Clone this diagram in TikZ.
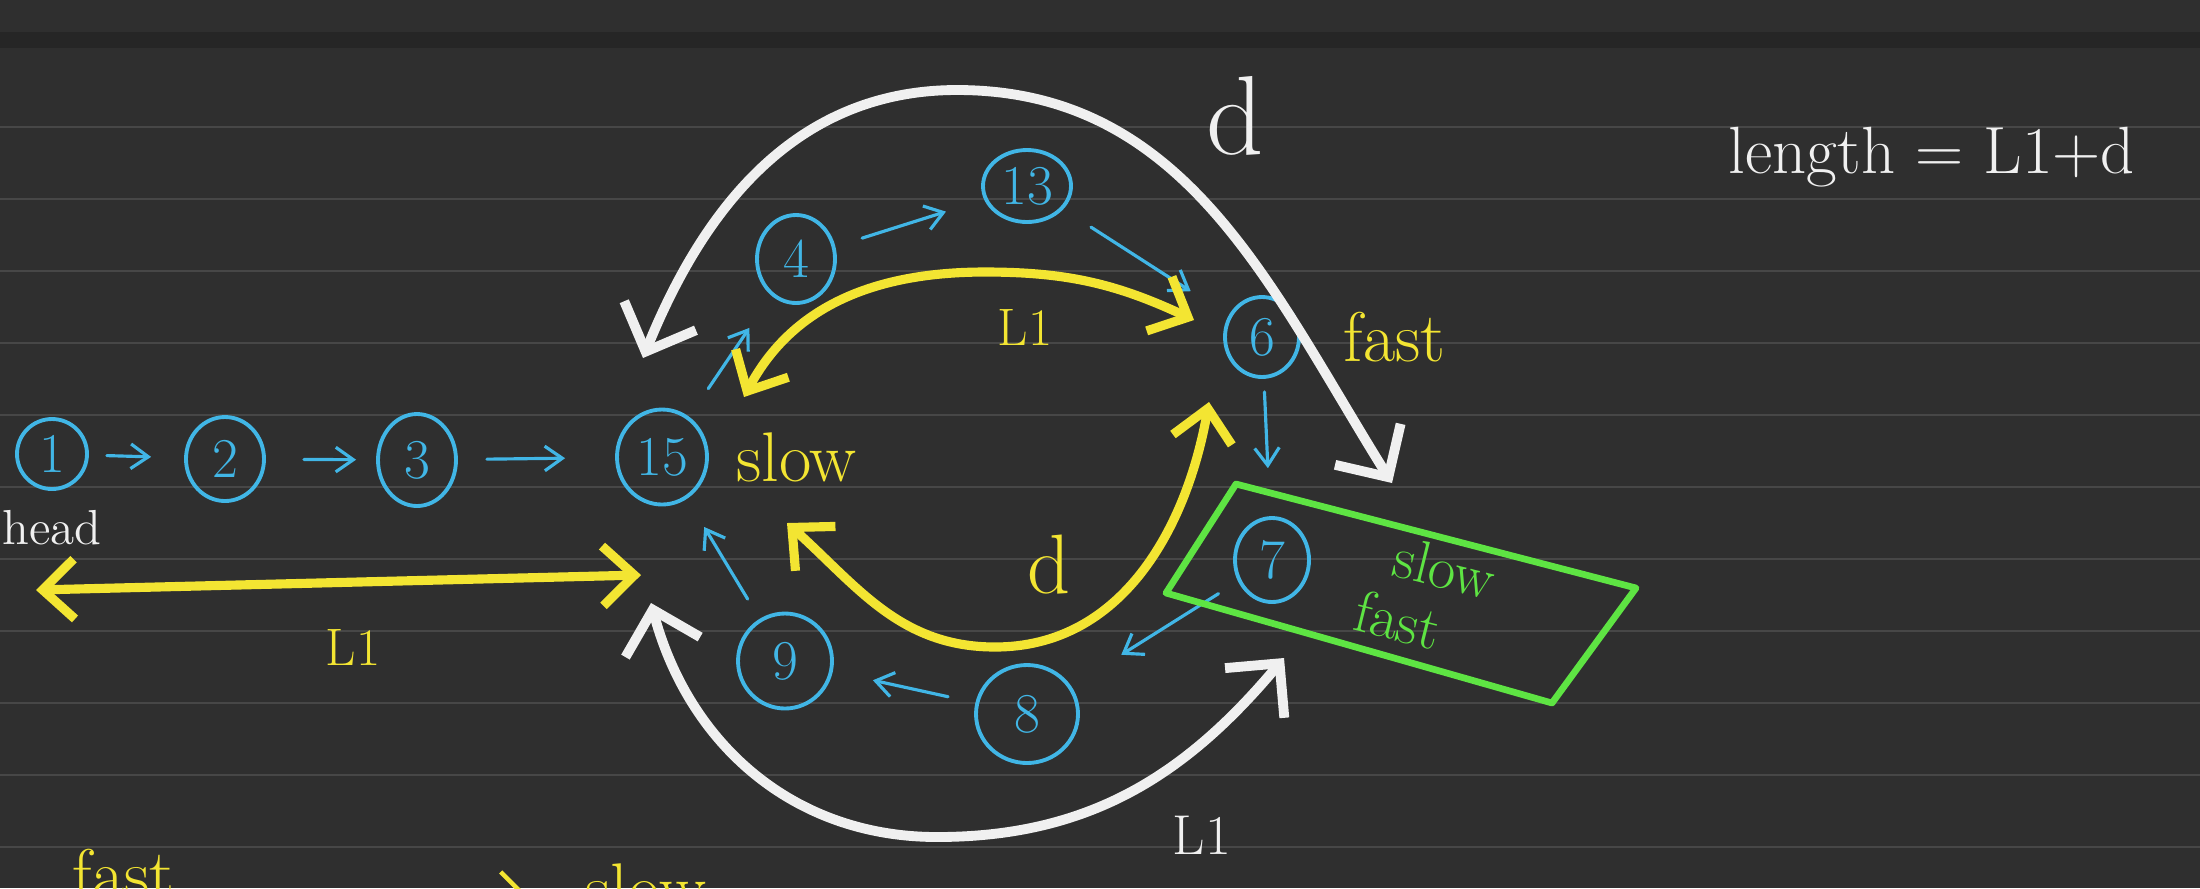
\documentclass[tikz,border=0pt]{standalone}
\usepackage{tikz}
\usetikzlibrary{positioning,arrows.meta,shapes.geometric}

\definecolor{boardbg}{HTML}{2F2F2F}
\definecolor{boardband}{HTML}{262626}
\definecolor{ruling}{HTML}{474747}
\definecolor{inkblue}{HTML}{41B6E6}
\definecolor{inkyellow}{HTML}{F3E532}
\definecolor{inkgreen}{HTML}{5EE443}
\definecolor{inkwhite}{HTML}{F0F0F0}

\begin{document}
\begin{tikzpicture}[
  % Blue ellipses for the list nodes
  listnode/.style={ellipse, draw=inkblue, line width=1.1pt, text=inkblue,
    minimum width=0.78cm, minimum height=0.84cm, inner sep=0pt,
    font=\fontsize{16}{16}\selectfont},
  % Handwritten labels, size given in pt
  ink/.style={inner sep=0pt, font=\fontsize{#1}{#1}\selectfont},
  % Thick double-headed strokes
  yellowarc/.style={draw=inkyellow, line width=2.6pt, line cap=round,
    {Straight Barb[length=9pt, width=17pt]}-{Straight Barb[length=9pt, width=17pt]}},
  whitearc/.style={draw=inkwhite, line width=2.8pt, line cap=round,
    {Straight Barb[length=11pt, width=22pt]}-{Straight Barb[length=11pt, width=22pt]}},
  greenbox/.style={draw=inkgreen, line width=1.9pt, line cap=round, line join=round},
  % Thin arrows between list nodes
  every edge/.style={draw=inkblue, line width=0.9pt, line cap=round,
    -{Straight Barb[length=5pt, width=7pt]}},
]
  % === Board ===
  \useasboundingbox (0,0) rectangle (22,-8.88);
  \clip (0,0) rectangle (22,-8.88);
  \fill[boardbg] (0,0) rectangle (22,-8.88);
  \fill[boardband] (0,-0.32) rectangle (22,-0.48);
  \foreach \k in {0,...,10}
    \draw[ruling, line width=0.7pt] (0,-1.27-0.72*\k) -- (22,-1.27-0.72*\k);

  % === List nodes ===
  \node[listnode, minimum width=0.70cm, minimum height=0.70cm] (n1) at (0.52,-4.54) {1};
  \node[listnode] (n2) at (2.25,-4.59) {2};
  \node[listnode, minimum height=0.92cm] (n3) at (4.17,-4.60) {3};
  \node[listnode, minimum width=0.90cm, minimum height=0.95cm] (n15) at (6.62,-4.57) {15};
  \node[listnode, minimum height=0.88cm] (n4) at (7.96,-2.59) {4};
  \node[listnode, minimum width=0.88cm, minimum height=0.72cm] (n13) at (10.27,-1.86) {13};
  \node[listnode, minimum width=0.74cm, minimum height=0.80cm] (n6) at (12.62,-3.37) {6};
  \node[listnode, minimum width=0.74cm] (n7) at (12.72,-5.60) {7};
  \node[listnode, minimum width=1.02cm, minimum height=0.98cm] (n8) at (10.27,-7.14) {8};
  \node[listnode, minimum width=0.94cm, minimum height=0.95cm] (n9) at (7.85,-6.61) {9};

  % === Labels ===
  \node[ink=14, text=inkwhite, below=0.19cm of n1] (head) {head};
  \node[ink=20, text=inkyellow, right=0.27cm of n15] (slow15) {slow};
  \node[ink=20, text=inkyellow, right=0.42cm of n6] (fast6) {fast};
  \node[ink=15, text=inkyellow] (lenL) at (3.53,-6.47) {L1};
  \node[ink=15, text=inkyellow] (topL) at (10.25,-3.27) {L1};
  \node[ink=24, text=inkyellow] (botD) at (10.49,-5.65) {d};
  \node[ink=32, text=inkwhite] (topD) at (12.35,-1.16) {d};
  \node[ink=16, text=inkwhite] (botL) at (12.02,-8.35) {L1};
  \node[ink=19, text=inkwhite] (formula) at (19.32,-1.57) {length = L1+d};
  \node[ink=17, text=inkgreen, rotate=-14] (slow7) at (14.45,-5.68) {slow};
  \node[ink=17, text=inkgreen, rotate=-14] (fast7) at (13.98,-6.20) {fast};
  \node[ink=20, text=inkyellow, anchor=base west] (fastB) at (0.72,-8.98) {fast};
  \node[ink=20, text=inkyellow, anchor=base west] (slowB) at (5.85,-9.12) {slow};

  % === Free ends of the strokes ===
  \coordinate (wdL) at (6.43,-3.58);
  \coordinate (wdTop) at (9.57,-0.90);
  \coordinate (wdR) at (13.92,-4.83);
  \coordinate (ylL) at (7.44,-3.97);
  \coordinate (ylTop) at (9.85,-2.72);
  \coordinate (ylR) at (11.94,-3.20);
  \coordinate (ydL) at (7.87,-5.23);
  \coordinate (ydBot) at (9.95,-6.47);
  \coordinate (ydR) at (12.09,-4.02);
  \coordinate (wlL) at (6.51,-6.03);
  \coordinate (wlBot) at (9.37,-8.37);
  \coordinate (wlR) at (12.84,-6.58);
  \coordinate (yhL) at (0.36,-5.90);
  \coordinate (yhR) at (6.41,-5.75);
  \coordinate (gTL) at (12.36,-4.84);
  \coordinate (gTR) at (16.36,-5.88);
  \coordinate (gBR) at (15.52,-7.03);
  \coordinate (gBL) at (11.66,-5.93);
  \coordinate (arrB0) at (3.40,-9.00);
  \coordinate (arrB1) at (5.32,-9.00);

  % === Edges: list links ===
  \path (n1) edge[shorten <=0.18cm, shorten >=0.33cm] (n2);
  \path (n2) edge[shorten <=0.38cm, shorten >=0.20cm] (n3);
  \path (n3) edge[shorten <=0.29cm, shorten >=0.50cm] (n15);
  \path (n15) edge[shorten <=0.34cm, shorten >=0.39cm] (n4);
  \path (n4) edge[shorten <=0.28cm, shorten >=0.40cm] (n13);
  \path (n13) edge[shorten <=0.33cm, shorten >=0.45cm] (n6);
  \path (n6) edge[shorten <=0.13cm, shorten >=0.48cm] (n7);
  \path (n7) edge[shorten <=0.23cm, shorten >=0.59cm] (n8);
  \path (n8) edge[shorten <=0.28cm, shorten >=0.41cm] (n9);
  \path (n9) edge[shorten <=0.23cm, shorten >=0.33cm] (n15);

  % === Strokes: distances ===
  \draw[yellowarc] (yhL) -- (yhR);
  \draw[yellowarc] (ylL) to[out=62, in=180] (ylTop) to[out=0, in=155] (ylR);
  \draw[yellowarc] (ydL) to[out=-42, in=180] (ydBot) to[out=0, in=-100] (ydR);
  \draw[whitearc] (wdL) to[out=68, in=180] (wdTop) to[out=0, in=122] (wdR);
  \draw[whitearc] (wlL) to[out=-75, in=180] (wlBot) to[out=0, in=-130] (wlR);

  % === Meeting box ===
  \draw[greenbox] (gTL) -- (gTR) -- (gBR) -- (gBL) -- cycle;

  % === Bottom note ===
  \draw[draw=inkyellow, line width=1.3pt, -{Straight Barb[length=8pt, width=16pt]}] (arrB0) -- (arrB1);
\end{tikzpicture}
\end{document}
